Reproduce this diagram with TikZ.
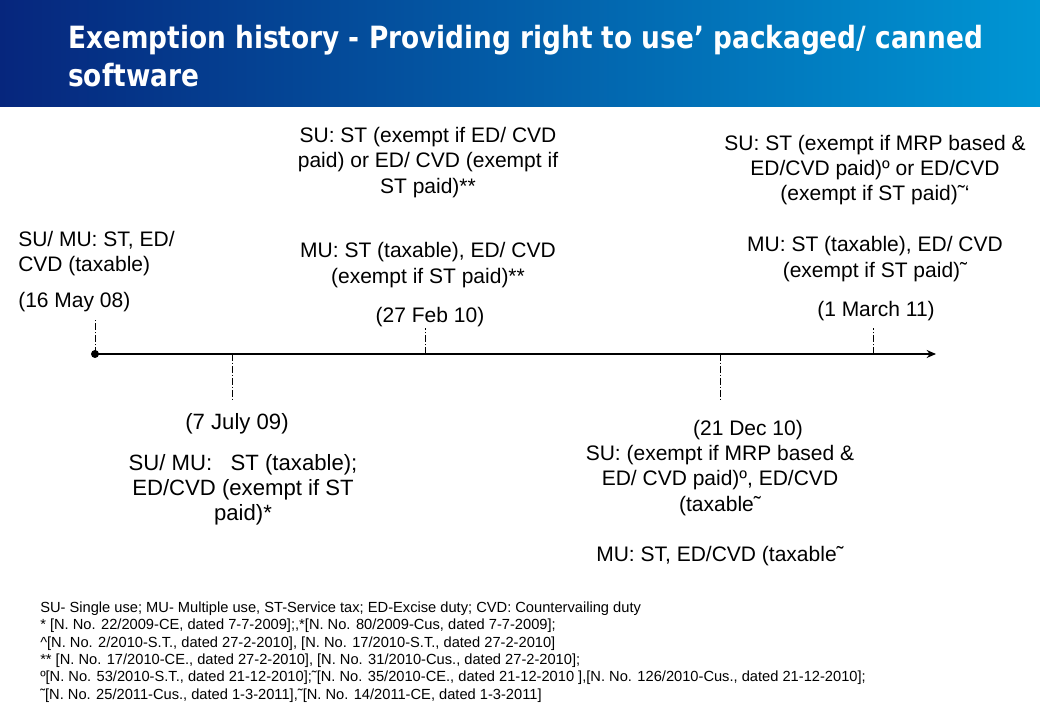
\documentclass[tikz,border=0pt]{standalone}
\usepackage{fontspec}
\setmainfont{Liberation Sans}
\newfontfamily\titlefont[FakeStretch=0.86]{DejaVu Sans}
\usetikzlibrary{arrows.meta}
\definecolor{hdark}{RGB}{6,38,125}
\definecolor{hmid}{RGB}{8,62,150}
\definecolor{hlight}{RGB}{0,150,212}
\tikzset{
  lbl/.style={inner sep=0pt, align=center, font=\fontsize{15.75}{18.9}\selectfont},
  lblbig/.style={inner sep=0pt, align=center, font=\fontsize{16.6}{18.9}\selectfont},
  lbll/.style={inner sep=0pt, align=left, font=\fontsize{15.75}{18.9}\selectfont},
  tick/.style={line width=0.6pt, dash pattern=on 5pt off 1.5pt on 1pt off 1.5pt},
  foot/.style={inner sep=0pt, align=left, font=\fontsize{11}{13}\selectfont},
}
\begin{document}
\begin{tikzpicture}[x=0.75pt,y=-0.75pt]
\useasboundingbox[fill=white] (0,0) rectangle (1040,720);
\shade[left color=hdark, middle color=hmid, right color=hlight] (0,0) rectangle (1040,107);
\node[anchor=west, inner sep=0pt, align=left, text=white, font=\titlefont\bfseries\fontsize{23}{28.5}\selectfont] (title) at (68,56) {Exemption history - Providing right to use’ packaged/ canned\\software};

% timeline
\coordinate (tstart) at (95,354);
\coordinate (tend) at (936,354);
\draw[line width=2.2pt, -{Stealth[length=7pt,width=6pt]}] (tstart) -- (tend);
\fill (tstart) circle (4);

\coordinate (t1) at (95,354);   \coordinate (t1e) at (95,318);
\coordinate (t2) at (232,354);  \coordinate (t2e) at (232,402);
\coordinate (t3) at (425,354);  \coordinate (t3e) at (425,328);
\coordinate (t4) at (720,354);  \coordinate (t4e) at (720,402);
\coordinate (t5) at (873,354);  \coordinate (t5e) at (873,328);
\draw[tick] (t1) -- (t1e);
\draw[tick] (t2) -- (t2e);
\draw[tick] (t3) -- (t3e);
\draw[tick] (t4) -- (t4e);
\draw[tick] (t5) -- (t5e);

% left
\node[lbll, anchor=west] (a) at (18,253.5) {SU/ MU: ST, ED/\\CVD (taxable)};
\node[lbll, anchor=west] (ad) at (18,302.5) {(16 May 08)};

% top middle
\node[lbl] (c1) at (428,162.5) {SU: ST (exempt if ED/ CVD\\paid) or ED/ CVD (exempt if\\ST paid)**};
\node[lbl] (c2) at (428,265) {MU: ST (taxable), ED/ CVD\\(exempt if ST paid)**};
\node[lbl] (cd) at (430,317.5) {(27 Feb 10)};

% top right
\node[lbl] (e1) at (875,170) {SU: ST (exempt if MRP based \&\\ED/CVD paid)º or ED/CVD\\(exempt if ST paid)˜`};
\node[lbl] (e2) at (875,259) {MU: ST (taxable), ED/ CVD\\(exempt if ST paid)˜};
\node[lbl] (ed) at (876,311) {(1 March 11)};

% bottom left
\node[lblbig] (bd) at (237,424) {(7 July 09)};
\node[lblbig] (b1) at (243,489.5) {SU/ MU:\ \ \ ST (taxable);\\ED/CVD (exempt if ST\\paid)*};

% bottom right
\node[lbl] (dd) at (748,430) {(21 Dec 10)};
\node[lbl] (d1) at (720,480.5) {SU: (exempt if MRP based \&\\ED/ CVD paid)º, ED/CVD\\(taxable˜};
\node[lbl] (d2) at (720,556) {MU: ST, ED/CVD (taxable˜};

% footnotes
\node[foot, anchor=west] (fn) at (40,652) {SU- Single use; MU- Multiple use, ST-Service tax; ED-Excise duty; CVD: Countervailing duty\\
* [N. No. 22/2009-CE, dated 7-7-2009];,*[N. No. 80/2009-Cus, dated 7-7-2009];\\
\^{}[N. No. 2/2010-S.T., dated 27-2-2010], [N. No. 17/2010-S.T., dated 27-2-2010]\\
** [N. No. 17/2010-CE., dated 27-2-2010], [N. No. 31/2010-Cus., dated 27-2-2010];\\
º[N. No. 53/2010-S.T., dated 21-12-2010];˜[N. No. 35/2010-CE., dated 21-12-2010 ],[N. No. 126/2010-Cus., dated 21-12-2010];\\
˜[N. No. 25/2011-Cus., dated 1-3-2011],˜[N. No. 14/2011-CE, dated 1-3-2011]};
\end{tikzpicture}
\end{document}
